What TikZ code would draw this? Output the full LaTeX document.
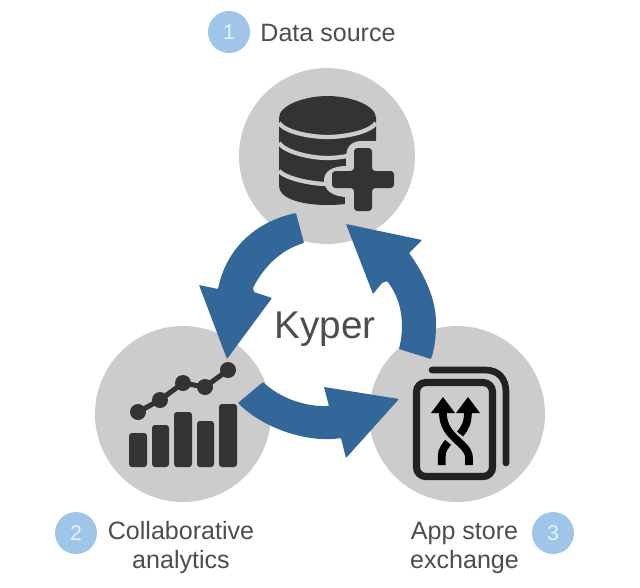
\documentclass[tikz,border=0pt]{standalone}
\usepackage{fontspec}
\setmainfont{Liberation Sans}
\definecolor{hub}{HTML}{CCCCCC}
\definecolor{flow}{HTML}{336699}
\definecolor{ink}{HTML}{333333}
\definecolor{txt}{HTML}{4D4D4D}
\definecolor{badgeblue}{HTML}{9FC5E8}
\definecolor{digit}{HTML}{E8F1F9}
\definecolor{edgeblack}{HTML}{222222}
\tikzset{
  hubcircle/.style={circle,fill=hub,minimum size=132pt,inner sep=0pt},
  badge/.style={circle,fill=badgeblue,minimum size=31.5pt,inner sep=0pt,text=digit,font=\fontsize{16}{16}\selectfont},
  lbl/.style={text=txt,font=\fontsize{18.8}{22}\selectfont,inner sep=0pt,anchor=base},
  flowarrow/.style={fill=flow,rounded corners=0.6pt},
  bar/.style={fill=ink,rounded corners=2.2pt},
  dot/.style={circle,fill=ink,minimum size=12pt,inner sep=0pt},
  gap/.style={draw=hub,line width=3.2pt},
  exline/.style={draw=edgeblack,line cap=round},
  xarrow/.style={draw=black,line width=5.8pt},
  xhead/.style={fill=black}
}
\begin{document}
\begin{tikzpicture}[x=0.75pt,y=-0.75pt]
\useasboundingbox (0,0) rectangle (640,587);
% hubs
\node[hubcircle] (top) at (327,156) {};
\node[hubcircle] (left) at (183,414) {};
\node[hubcircle] (right) at (457,414) {};
% flow arrows
\fill[flowarrow] (296,213) .. controls (254,222) and (226,250) .. (218,289)
  -- (199,285) -- (227,359) -- (272,298) -- (254,292) -- (253,288)
  .. controls (263,268) and (280,250) .. (304,243) -- cycle;
\fill[flowarrow] (238,403) .. controls (265,430) and (310,443) .. (341,438)
  -- (346,458) -- (399,399) -- (324,387) -- (329,406)
  .. controls (305,407) and (280,398) .. (263,382) -- cycle;
\fill[flowarrow] (431,359) .. controls (434,350) and (436,340) .. (436,323)
  .. controls (436,300) and (425,275) .. (409,253)
  -- (422,240) -- (346,224) -- (373,294) -- (382,283) -- (387,281)
  .. controls (402,300) and (405,325) .. (399,349) -- cycle;
% database
\fill[ink] (279,118) .. controls (279,105) and (305,96) .. (327.5,96)
    .. controls (350,96) and (376,105) .. (376,118)
    -- (376,190) .. controls (376,200) and (350,205) .. (327.5,205)
    .. controls (300,205) and (279,198) .. (279,186) -- cycle;
\draw[gap] (279,123) .. controls (285,132) and (310,137) .. (327.5,137) .. controls (345,137) and (370,132) .. (376,123);
\draw[gap] (279,143) .. controls (285,152) and (310,158) .. (327.5,158) .. controls (345,158) and (370,152) .. (376,143);
\draw[gap] (279,171) .. controls (285,178) and (310,184) .. (327.5,184) .. controls (345,184) and (370,178) .. (376,171);
% plus with its halo
\fill[hub] (379,141) -- (360,141) .. controls (350,142) and (346,148) .. (346,158) -- (346,166)
  .. controls (332,166) and (324,172) .. (324,180) .. controls (324,190) and (332,196) .. (345,197)
  -- (345,210) -- (379,210) -- cycle;
\fill[ink,rounded corners=2.5pt] (354,148) -- (372,148) -- (372,171) -- (394,171) -- (394,188) -- (372,188)
  -- (372,211) -- (354,211) -- (354,188) -- (332,188) -- (332,171) -- (354,171) -- cycle;
% chart
\fill[bar] (129,433) rectangle (147,467);
\fill[bar] (152,425) rectangle (169,467);
\fill[bar] (174,412) rectangle (192,467);
\fill[bar] (197,421) rectangle (214,467);
\fill[bar] (219,404) rectangle (237,467);
\node[dot] (p1) at (138,412) {};
\node[dot] (p2) at (160,400) {};
\node[dot] (p3) at (183,383) {};
\node[dot] (p4) at (205,387) {};
\node[dot] (p5) at (228,370) {};
\draw[ink,line width=3.8pt] (p1.center) -- (p2.center) -- (p3.center) -- (p4.center) -- (p5.center);
% exchange icon
\draw[exline,line width=5pt] (432,370) -- (485,370) .. controls (498,370) and (506,378) .. (506,392) -- (506,463);
\draw[edgeblack,line width=5.4pt,rounded corners=7pt] (416.5,382.5) rectangle (492.5,476.5);
% crossing arrows
\draw[xarrow] (441.7,465) -- (441.7,456) .. controls (441.7,450) and (445,446) .. (450,440);
\draw[xarrow] (460,434) .. controls (466,427) and (468,422) .. (468,410);
\draw[hub,line width=9.5pt] (442.5,424) .. controls (443,436) and (469,444) .. (469,459);
\draw[xarrow] (443,410) .. controls (441,438) and (469,442) .. (469,458) -- (469,465);
\fill[xhead] (431,413) -- (443,397) -- (455,413) -- cycle;
\fill[xhead] (456,413) -- (468,397) -- (480,413) -- cycle;
% text
\node[text=txt,inner sep=0pt,anchor=base,font=\fontsize{29}{31}\selectfont] (kyper) at (325,338) {Kyper};
\node[badge] (b1) at (229,32) {1};
\node[badge] (b2) at (76,533) {2};
\node[badge] (b3) at (553,533) {3};
\node[lbl] (l1) at (328,41) {Data source};
\node[lbl] (l2a) at (181,539) {Collaborative};
\node[lbl] (l2b) at (181,568) {analytics};
\node[lbl] (l3a) at (464.5,539) {App store};
\node[lbl] (l3b) at (464.5,568) {exchange};
\end{tikzpicture}
\end{document}
